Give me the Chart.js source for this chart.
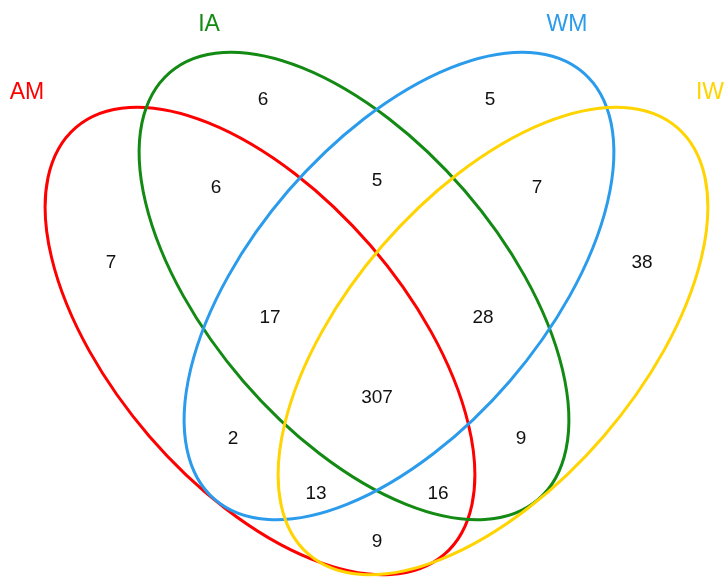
<!DOCTYPE html>
<html>
<head>
<meta charset="utf-8">
<script src="https://cdn.jsdelivr.net/npm/chart.js@4/dist/chart.umd.min.js"></script>
<style>
  html, body { margin: 0; padding: 0; background: #fff; }
  #wrap { width: 725px; height: 577px; }
</style>
</head>
<body>
<div id="wrap"><canvas id="venn" width="725" height="577"></canvas></div>
<script>
// set names and colours
const setNames = ['AM', 'IA', 'WM', 'IW'];
const setColors = ['#ff0000', '#138a13', '#2b9bec', '#ffd400'];

// region counts (order matches regionKeys)
const regionKeys = ['AM', 'IA', 'WM', 'IW',
    'AM&IA', 'IA&WM', 'WM&IW', 'AM&WM', 'IA&IW', 'AM&IW',
    'AM&IA&WM', 'IA&WM&IW', 'AM&WM&IW', 'AM&IA&IW', 'AM&IA&WM&IW'];
const regionCounts = [7, 6, 5, 38, 6, 5, 7, 2, 9, 9, 17, 28, 13, 16, 307];

// where each count sits on the plane (x right, y down)
const regionX = [111, 263, 490, 642, 216, 377, 537, 233, 521, 377, 270, 483, 316, 438, 377];
const regionY = [263, 100, 100, 263, 188, 181, 188, 439, 439, 542, 318, 318, 494, 494, 398];

// set name positions
const nameX = [27, 209, 567, 710];
const nameY = [93, 25, 25, 93];

// ellipse geometry for each set
const ellCx = [260, 354, 399, 493];
const ellCy = [341, 286, 286, 341];
const ellA = [282, 282, 282, 282];
const ellB = [146, 146, 146, 146];
const ellRot = [49.2, 49.2, -49.2, -49.2];

let ellipsePlugin = {
    id: 'ellipses',
    afterDatasetsDraw: (chart) => {
        const ctx = chart.ctx
        const xs = chart.scales.x
        const ys = chart.scales.y
        const kx = Math.abs(xs.getPixelForValue(1) - xs.getPixelForValue(0))
        const ky = Math.abs(ys.getPixelForValue(1) - ys.getPixelForValue(0))
        ctx.save()
        ctx.lineWidth = 3
        for (let i = 0; i < setNames.length; i++) {
            ctx.beginPath()
            ctx.strokeStyle = setColors[i]
            ctx.ellipse(xs.getPixelForValue(ellCx[i]), ys.getPixelForValue(ellCy[i]),
                ellA[i] * kx, ellB[i] * ky, ellRot[i] * Math.PI / 180, 0, Math.PI * 2)
            ctx.stroke()
        }
        // text labels on top
        ctx.textAlign = 'center'
        ctx.textBaseline = 'middle'
        chart.data.datasets.forEach((ds, di) => {
            const meta = chart.getDatasetMeta(di)
            meta.data.forEach((pt, j) => {
                ctx.font = ds.labelFont
                ctx.fillStyle = Array.isArray(ds.labelColor) ? ds.labelColor[j] : ds.labelColor
                ctx.fillText(String(ds.labels[j]), pt.x, pt.y)
            })
        })
        ctx.restore()
    }
}

const config = {
    type: 'scatter',
    data: {
        datasets: [{
            label: 'regions',
            data: regionCounts.map((c, i) => ({x: regionX[i], y: regionY[i]})),
            labels: regionCounts,
            labelFont: '19px "Liberation Sans", Arial, sans-serif',
            labelColor: '#111',
            pointRadius: 0
        }, {
            label: 'sets',
            data: setNames.map((n, i) => ({x: nameX[i], y: nameY[i]})),
            labels: setNames,
            labelFont: '23px "Liberation Sans", Arial, sans-serif',
            labelColor: setColors,
            pointRadius: 0
        }]
    },
    options: {
        responsive: false,
        animation: false,
        layout: { padding: 0 },
        plugins: { legend: { display: false }, tooltip: { enabled: false } },
        scales: {
            x: { type: 'linear', min: 0, max: 725, display: false },
            y: { type: 'linear', min: 0, max: 577, reverse: true, display: false }
        }
    },
    plugins: [ellipsePlugin]
};

const vennChart = new Chart(document.getElementById('venn'), config);
</script>
</body>
</html>
